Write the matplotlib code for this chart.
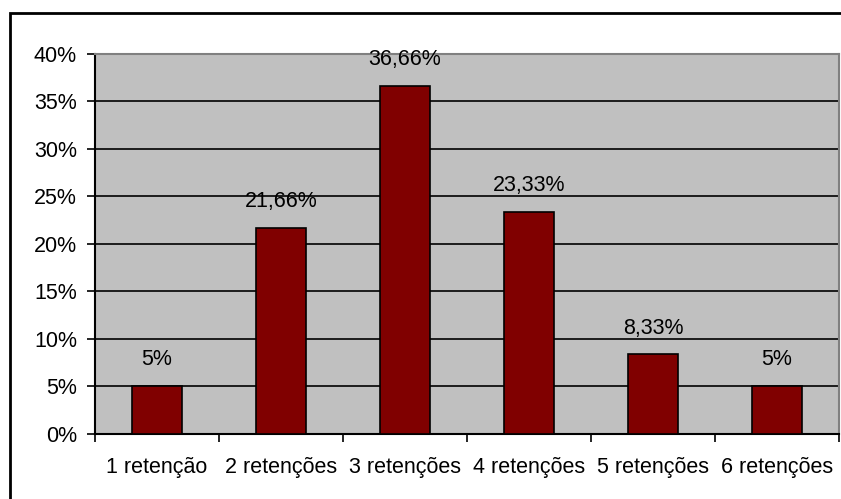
import matplotlib
matplotlib.use("Agg")
import matplotlib.pyplot as plt
from matplotlib.patches import Rectangle

categories = ["1 retenção", "2 retenções", "3 retenções", "4 retenções", "5 retenções", "6 retenções"]
values = [5, 21.66, 36.66, 23.33, 8.33, 5]
labels = ["5%", "21,66%", "36,66%", "23,33%", "8,33%", "5%"]
yticks = [0, 5, 10, 15, 20, 25, 30, 35, 40]
ytick_labels = ["0%", "5%", "10%", "15%", "20%", "25%", "30%", "35%", "40%"]

plt.rcParams['font.family'] = ['Liberation Sans', 'DejaVu Sans']
FS = 15.5

W, H = 841, 499
fig = plt.figure(figsize=(W/100, H/100), dpi=100)
ax = fig.add_axes([95/W, 1-433.5/H, (839-95)/W, (433.5-54)/H])
ax.set_facecolor('#C0C0C0')

x = list(range(len(categories)))
ax.bar(x, values, width=0.41, color='#800000', edgecolor='black', linewidth=1.2, zorder=3)
for xi, v, lab in zip(x, values, labels):
    ax.annotate(lab, (xi, v), xytext=(0, 15), textcoords='offset points',
                ha='center', va='baseline', fontsize=FS, color='black')

ax.set_xlim(-0.5, len(categories)-0.5)
ax.set_ylim(0, 40)
ax.set_yticks(yticks)
ax.set_yticklabels(ytick_labels, fontsize=FS)
ax.set_xticks([i - 0.5 for i in range(len(categories)+1)], minor=False)
ax.set_xticklabels([])
ax.set_xticks(x, minor=True)
ax.set_xticklabels(categories, minor=True, fontsize=FS)
ax.tick_params(axis='x', which='major', length=6, direction='out', width=1.2, color='black')
ax.tick_params(axis='x', which='minor', length=0, pad=17)
ax.tick_params(axis='y', length=6, direction='out', width=1.2, pad=7)
ax.yaxis.grid(True, color='black', linewidth=1.2, zorder=1)
ax.set_axisbelow(True)
for s in ['top', 'right']:
    ax.spines[s].set_color('#808080')
    ax.spines[s].set_linewidth(1.5)
for s in ['left', 'bottom']:
    ax.spines[s].set_color('black')
    ax.spines[s].set_linewidth(1.5)

fig.patches.append(Rectangle((10/W, -0.1), 1.2, 1-13/H+0.1, transform=fig.transFigure,
                             fill=False, edgecolor='black', linewidth=2))

fig.savefig('out.png', dpi=100)
